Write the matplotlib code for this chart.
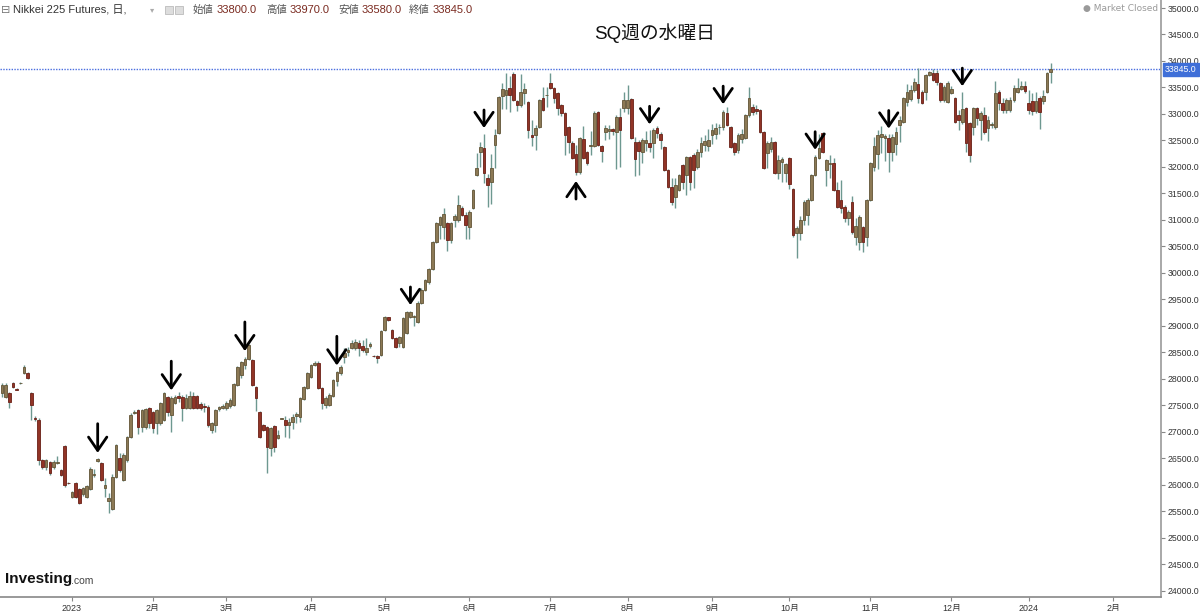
import numpy as np
import pandas as pd
import matplotlib.pyplot as plt
from matplotlib.patches import Rectangle

plt.rcParams['font.family'] = ['Liberation Sans', 'Noto Sans CJK JP', 'DejaVu Sans']

# Nikkei 225 Futures daily bars, first bar 2022-12-06
start = "2022-12-06"

opens = [
    27740, 27660, 27740, 27920, 27810, 27920, 28110, 28110, 27740, 27270,
    27220, 26470, 26330, 26430, 26340, 26420, 26280, 26730, 26040, 25780,
    26040, 25920, 25830, 25780, 25920, 26190, 26460, 26410, 25950, 25700,
    25540, 26150, 26510, 26100, 26470, 26900, 27350, 27420,
    27090, 27100, 27450, 27370, 27170, 27170, 27220, 27660, 27320, 27550,
    27680, 27660, 27450, 27450, 27680, 27680, 27530, 27490, 27470, 27040,
    27130, 27430, 27460, 27450, 27490, 27510, 27890, 28080, 28260, 28370,
    28360, 27850, 27370, 27130, 27090,
    26700, 27110, 26890, 27250, 27230, 27140, 27190, 27310, 27280, 27620,
    27830, 28040, 28260, 28300, 27830, 27510, 27510, 27670, 27960, 28110,
    28410, 28500, 28590, 28590, 28680, 28630, 28510, 28620, 28440, 28430,
    28450, 28920, 29160, 28920, 28770, 28680, 28610, 28870, 29170, 29160, 29080,
    29440, 29680, 29830, 30080, 30580, 30900, 30870, 30940, 30620, 31000,
    31000, 31230, 31100, 30870, 31230, 31850, 32280, 32360, 31800, 31720,
    32410, 32640, 33340, 33360, 33490, 33760, 33250, 33170, 33400, 33230,
    32600, 32600, 32750, 33300,
    33350, 33590, 33490, 33400, 33170, 33020, 32750, 32450, 32240, 31900,
    32530, 32280, 32390, 32400, 33040, 32390, 32660, 32680, 32720, 32660,
    32950, 33110, 33110, 33280, 32470, 32470, 32280, 32460, 32450, 32450,
    32740, 32620, 32380, 31950, 31620, 31430, 31560, 32030, 31850, 32190,
    32230, 32000, 32280, 32420,
    32390, 32600, 32620, 32750, 32760, 33020, 32760, 32450, 32320, 32530,
    32550, 32980, 33130, 33090, 33070, 32660, 32270, 32330, 32470, 31880,
    32100, 31880, 32170, 31580, 30760, 30760, 31000, 31100, 31380, 31850,
    32170, 32640, 31940, 32060, 32080, 31570, 31370, 31250, 31040, 31340,
    30680, 30580, 30870, 30680, 31380, 32000,
    32240, 32570, 32550, 32550, 32290, 32430, 32790, 32850, 33230, 33280,
    33460, 33570, 33420, 33420, 33740, 33770, 33770, 33580, 33260, 33230,
    33400, 33300, 32990, 32850, 33120, 32830, 32750, 33110, 32890, 32980,
    32740, 32790, 32750, 33420, 33210, 33080, 33080, 33260, 33420, 33470,
    33520, 33210, 33240, 33050, 33310, 33240, 33420, 33800,
]

highs = [
    27920, 27920, 27760, 27940, 27830, 27950, 28260, 28130, 27760, 27300,
    27260, 26480, 26490, 26450, 26470, 26540, 26300, 26760, 26060, 25890,
    26060, 25940, 25960, 26000, 26330, 26300, 26500, 26430, 26130, 25850,
    26200, 26780, 26600, 26600, 26920, 27350, 27420, 27440,
    27440, 27450, 27470, 27390, 27430, 27570, 27760, 27680, 27680, 27700,
    27760, 27700, 27720, 27780, 27750, 27700, 27560, 27540, 27500, 27190,
    27430, 27490, 27520, 27580, 27640, 27920, 28250, 28340, 28420, 28660,
    28380, 27870, 27390, 27150, 27110,
    27090, 27130, 27030, 27270, 27310, 27260, 27340, 27370, 27660, 27870,
    28130, 28290, 28330, 28340, 27850, 27680, 27740, 28000, 28150, 28260,
    28580, 28600, 28740, 28760, 28730, 28740, 28780, 28700, 28460, 28450,
    28920, 29180, 29170, 28940, 28790, 28810, 29170, 29280, 29290, 29200, 29470,
    29710, 29890, 30100, 30610, 30960, 31080, 31230, 30960, 30960, 31110,
    31480, 31260, 31150, 31180, 31590, 32260, 32480, 32630, 31870, 32250,
    32720, 33340, 33580, 33780, 33720, 33790, 33270, 33760, 33590, 33250,
    32880, 32800, 33290, 33500,
    33500, 33780, 33510, 33420, 33190, 33040, 32770, 32490, 32420, 32570,
    32770, 32300, 32680, 33050, 33060, 32410, 32790, 32790, 32740, 32980,
    33110, 33410, 33540, 33300, 32570, 32500, 32540, 32680, 32700, 32740,
    32780, 32660, 32400, 31970, 31800, 31790, 31870, 32050, 32210, 32210,
    32260, 32340, 32570, 32600,
    32720, 32810, 32830, 32810, 33080, 33130, 32780, 32470, 32640, 32720,
    33000, 33500, 33190, 33170, 33090, 32680, 32490, 32570, 32490, 32230,
    32190, 32080, 32190, 31600, 30880, 31080, 31380, 31420, 31870, 32220,
    32630, 32660, 32150, 32220, 32170, 31720, 31750, 31280, 31180, 31450,
    31040, 31090, 30890, 31400, 32100, 32570,
    32700, 32780, 32620, 32620, 32620, 32760, 32960, 33320, 33560, 33540,
    33680, 33860, 33460, 33760, 33820, 33850, 33830, 33600, 33540, 33620,
    33530, 33320, 33080, 33420, 33140, 32850, 33140, 33140, 33050, 33130,
    32960, 32850, 33620, 33450, 33300, 33300, 33320, 33550, 33670, 33620,
    33620, 33460, 33400, 33420, 33340, 33460, 33800, 33970,
]

lows = [
    27660, 27640, 27450, 27830, 27790, 27900, 28090, 28000, 27220, 27200,
    26380, 26300, 26290, 26180, 26300, 26400, 26160, 25970, 26010, 25760,
    25750, 25640, 25800, 25760, 25900, 26150, 26440, 26070, 25780, 25470,
    25520, 26130, 26250, 26080, 26440, 26880, 27330, 26960,
    26990, 27050, 27070, 26980, 26970, 27130, 27200, 27300, 27000, 27530,
    27560, 27200, 27430, 27430, 27430, 27430, 27420, 27380, 27100, 26980,
    27000, 27400, 27440, 27420, 27450, 27490, 27870, 28020, 28180, 28350,
    27860, 27400, 26880, 27020, 26220,
    26550, 26620, 26870, 27240, 26900, 26880, 27050, 27170, 27190, 27600,
    27810, 28020, 28240, 27810, 27430, 27450, 27480, 27650, 27860, 28080,
    28310, 28430, 28560, 28550, 28440, 28510, 28450, 28580, 28420, 28300,
    28430, 28900, 29100, 28750, 28580, 28600, 28590, 28850, 29150, 28990, 29060,
    29420, 29660, 29800, 30060, 30560, 30650, 30650, 30420, 30560, 30870,
    30960, 31070, 30650, 30650, 31210, 31830, 32000, 31700, 31240, 31300,
    31990, 32620, 33090, 33090, 33040, 33250, 33050, 33130, 33180, 32550,
    32400, 32320, 32730, 33060,
    33130, 33470, 33210, 32980, 32960, 32220, 32260, 32150, 31840, 31860,
    32150, 32030, 32220, 32380, 32400, 32100, 32510, 32530, 32600, 31960,
    32000, 33040, 33000, 32530, 31830, 31840, 32080, 32300, 32280, 32160,
    32540, 32330, 31930, 31600, 31280, 31230, 31540, 31580, 31470, 31570,
    31600, 31960, 32180, 32300,
    32300, 32430, 32530, 32620, 32700, 32770, 32360, 32220, 32260, 32450,
    32530, 32950, 32980, 33000, 32640, 31960, 31980, 32280, 31860, 31770,
    31720, 31720, 31580, 30680, 30280, 30630, 30910, 30910, 31360, 31830,
    32150, 32260, 31640, 31800, 31550, 31220, 31130, 30960, 30910, 30740,
    30530, 30430, 30400, 30510, 31360, 31920,
    31970, 32260, 32110, 31900, 32110, 32230, 32470, 32830, 33160, 33250,
    33420, 33200, 33180, 33260, 33720, 33620, 33540, 33230, 33230, 33200,
    33380, 32830, 32700, 32820, 32280, 32090, 32600, 32790, 32510, 32620,
    32490, 32740, 32710, 33080, 33020, 33020, 33040, 33230, 33400, 33450,
    33400, 33000, 32980, 33020, 32710, 33180, 33400, 33580,
]

closes = [
    27890, 27880, 27570, 27850, 27800, 27930, 28230, 28020, 27510, 27250,
    26470, 26340, 26470, 26230, 26430, 26440, 26190, 26000, 26030, 25870,
    25780, 25660, 25940, 25980, 26300, 26200, 26480, 26090, 26000, 25750,
    26150, 26750, 26280, 26560, 26900, 27320, 27370, 27090,
    27410, 27430, 27170, 27080, 27410, 27550, 27740, 27380, 27640, 27660,
    27640, 27450, 27640, 27680, 27450, 27450, 27450, 27470, 27130, 27170,
    27410, 27470, 27490, 27550, 27600, 27900, 28230, 28320, 28370, 28640,
    27880, 27640, 26900, 27040, 26720,
    27070, 26720, 26940, 27260, 27130, 27180, 27280, 27340, 27640, 27850,
    28110, 28260, 28300, 27830, 27550, 27640, 27700, 27980, 28130, 28230,
    28490, 28550, 28680, 28700, 28590, 28550, 28590, 28660, 28430, 28390,
    28900, 29160, 29120, 28770, 28600, 28790, 29150, 29260, 29260, 29180, 29440,
    29680, 29870, 30080, 30580, 30940, 31060, 31110, 30620, 30940, 31080,
    31280, 31100, 30910, 31150, 31570, 31980, 32380, 31890, 31660, 31980,
    32600, 33320, 33470, 33450, 33360, 33270, 33170, 33420, 33470, 32700,
    32560, 32730, 33270, 33080,
    33360, 33490, 33300, 33110, 33020, 32600, 32470, 32170, 31900, 32550,
    32170, 32070, 32420, 33020, 32420, 32300, 32730, 32720, 32680, 32950,
    32700, 33260, 33260, 32550, 32150, 32300, 32510, 32510, 32380, 32700,
    32640, 32500, 31950, 31620, 31340, 31660, 31850, 31720, 32190, 31720,
    31940, 32280, 32450, 32490,
    32510, 32700, 32740, 32760, 33040, 32790, 32380, 32280, 32600, 32620,
    32980, 33300, 33040, 33060, 32660, 31980, 32450, 32470, 31880, 32130,
    32150, 32060, 31670, 30720, 30850, 31000, 31340, 31380, 31850, 32190,
    32360, 32280, 32130, 32080, 31570, 31250, 31220, 31040, 31150, 30770,
    30880, 31060, 30580, 31380, 32080, 32400,
    32600, 32620, 32580, 32290, 32570, 32660, 32880, 33300, 33420, 33460,
    33600, 33300, 33210, 33730, 33790, 33640, 33610, 33260, 33500, 33580,
    33480, 32850, 32890, 33090, 32460, 32230, 33110, 32920, 33020, 32660,
    32890, 32800, 33400, 33210, 33080, 33260, 33270, 33490, 33490, 33530,
    33440, 33080, 33050, 33240, 33040, 33330, 33780, 33845,
]

# SQ week Wednesdays (marked with arrows); July is marked from below
sq_dates = ["2023-01-11", "2023-02-08", "2023-03-08", "2023-04-12", "2023-05-10",
            "2023-06-07", "2023-07-12", "2023-08-09", "2023-09-06", "2023-10-11",
            "2023-11-08", "2023-12-06"]
sq_below = ["2023-07-12"]

last_price = 33845.0
y_ticks = [24000, 24500, 25000, 25500, 26000, 26500, 27000, 27500, 28000, 28500,
           29000, 29500, 30000, 30500, 31000, 31500, 32000, 32500, 33000, 33500,
           34000, 34500, 35000]

o = np.array(opens, float)
h = np.array(highs, float)
l = np.array(lows, float)
c = np.array(closes, float)
n = len(c)
all_days = pd.bdate_range(start, "2024-02-29")
days = all_days[:n]
x = np.arange(n)

up_col, up_edge = "#8c7955", "#625436"
dn_col, dn_edge = "#913426", "#6a2016"
wick_col = "#6d9890"

fig = plt.figure(figsize=(12, 6.11), dpi=100)
ax = fig.add_axes([0, 1 - 597 / 611, 1161 / 1200, 597 / 611])

up = c >= o
ax.vlines(x, l, h, color=wick_col, lw=1, zorder=2)
body_lo = np.minimum(o, c)
body_h = np.maximum(np.abs(c - o), 12)
ax.bar(x[up], body_h[up], bottom=body_lo[up], width=0.72, color=up_col,
       edgecolor=up_edge, linewidth=0.6, zorder=3)
ax.bar(x[~up], body_h[~up], bottom=body_lo[~up], width=0.72, color=dn_col,
       edgecolor=dn_edge, linewidth=0.6, zorder=3)

# arrows for SQ week Wednesday
arrow_style = "->,head_length=0.8,head_width=0.55"
for k, d in enumerate(sq_dates):
    i = days.get_loc(pd.Timestamp(d))
    length = 21 if k < 4 else 13
    if d in sq_below:
        xy, off = (i, l[i]), -(length + 4)
    else:
        xy, off = (i, h[i]), length + 4
    ax.annotate("", xy=xy, xytext=(0, off), textcoords="offset points",
                arrowprops=dict(arrowstyle=arrow_style, color="black", lw=2,
                                shrinkA=0, shrinkB=4, mutation_scale=12), zorder=5)

# last price line
ax.axhline(last_price, color="#4a6ee0", lw=1.0, ls=(0, (1, 1)), zorder=1)

ax.set_xlim(-0.55, 315)
ax.set_ylim(23885, 35151)

# month ticks
tick_pos, tick_lab = [], []
months = pd.period_range("2023-01", "2024-02", freq="M")
for m in months:
    first = all_days[(all_days.year == m.year) & (all_days.month == m.month)][0]
    tick_pos.append(all_days.get_loc(first))
    tick_lab.append(str(m.year) if m.month == 1 else f"{m.month}月")
ax.set_xticks(tick_pos)
ax.set_xticklabels(tick_lab, fontsize=6.4, color="#333333")

ax.yaxis.tick_right()
ax.set_yticks(y_ticks)
ax.set_yticklabels([f"{v:.1f}" for v in y_ticks], fontsize=6.3, color="#333333")
ax.tick_params(axis="both", length=3, width=0.8, color="#888888", pad=2)

for s in ["top", "left"]:
    ax.spines[s].set_visible(False)
ax.spines["right"].set_color("#999999")
ax.spines["bottom"].set_color("#888888")
ax.spines["right"].set_linewidth(1.2)
ax.spines["bottom"].set_linewidth(1.2)

# price label on the right axis
ax.annotate(f"{last_price:.1f}", xy=(1.0, last_price), xycoords=("axes fraction", "data"),
            xytext=(3, 0), textcoords="offset points", fontsize=6.3, color="white",
            va="center", ha="left",
            bbox=dict(boxstyle="square,pad=0.25", fc="#3f6fd8", ec="#3f6fd8"),
            annotation_clip=False)

# title
fig.text(655 / 1200, 1 - 33 / 611, "SQ週の水曜日", fontsize=13.5, ha="center", va="center",
         color="#111111")

# header
hy = 1 - 10 / 611
fig.text(1 / 1200, hy, "⊟", fontsize=8, color="#777777", va="center",
         family=["DejaVu Sans"])
fig.text(13 / 1200, hy, "Nikkei 225 Futures, 日,", fontsize=8, color="#333333", va="center")
fig.text(150 / 1200, hy, "▾", fontsize=6, color="#aaaaaa", va="center",
         family=["DejaVu Sans"])
for px in (165, 175):
    fig.patches.append(Rectangle((px / 1200, hy - 4 / 611), 8 / 1200, 8 / 611,
                                 transform=fig.transFigure, fc="#dddddd", ec="#bbbbbb",
                                 lw=0.6))
header = [("始値", "33800.0", 193), ("高値", "33970.0", 266),
          ("安値", "33580.0", 338), ("終値", "33845.0", 409)]
for lab, val, px in header:
    fig.text(px / 1200, hy, lab, fontsize=7.5, color="#555555", va="center")
    fig.text((px + 24) / 1200, hy, val, fontsize=8, color="#7a2a20", va="center")

fig.text(1158 / 1200, 1 - 9 / 611, "● Market Closed", fontsize=6.5, color="#9a9a9a",
         ha="right", va="center", family=["DejaVu Sans"])

# logo
fig.text(5 / 1200, 1 - 579 / 611, "Investing", fontsize=11, fontweight="bold",
         color="#111111", va="center")
fig.text(71 / 1200, 1 - 581 / 611, ".com", fontsize=7.5, color="#444444", va="center")

fig.savefig("out.png", dpi=100)
